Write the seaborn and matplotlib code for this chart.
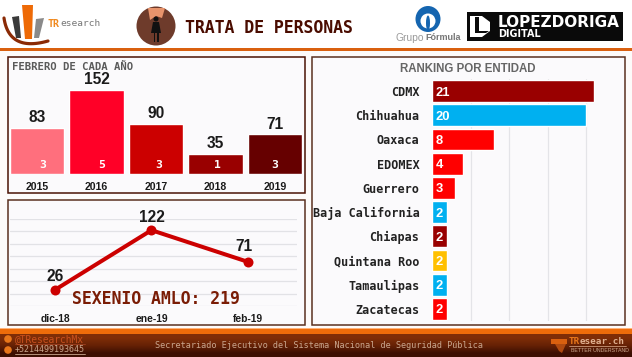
import numpy as np
import matplotlib.pyplot as plt
import seaborn as sns
from matplotlib.patches import Rectangle, Circle, Polygon, Ellipse

# Data
years = ['2015', '2016', '2017', '2018', '2019']
year_totals = [83, 152, 90, 35, 71]
year_counts = [3, 5, 3, 1, 3]
year_colors = ['#FF6F7D', '#FF0027', '#CC0000', '#990000', '#660000']

months = ['dic-18', 'ene-19', 'feb-19']
month_totals = [26, 122, 71]

states = ['CDMX', 'Chihuahua', 'Oaxaca', 'EDOMEX', 'Guerrero',
          'Baja California', 'Chiapas', 'Quintana Roo', 'Tamaulipas',
          'Zacatecas']
state_totals = [21, 20, 8, 4, 3, 2, 2, 2, 2, 2]
state_colors = ['#990000', '#00B0F0', '#FF0000', '#FF0000', '#FF0000',
                '#00B0F0', '#990000', '#FFC000', '#00B0F0', '#FF0000']

W, H = 632, 357
SANS = 'Liberation Sans'
MONO = 'DejaVu Sans Mono'

sns.set_theme(style='white')
fig = plt.figure(figsize=(W / 100, H / 100), dpi=100, facecolor='white')


def px_axes(left, top, right, bottom, zorder=1):
    """Axes placed by pixel edges of the figure."""
    ax = fig.add_axes([left / W, 1 - bottom / H, (right - left) / W,
                       (bottom - top) / H], zorder=zorder)
    ax.patch.set_alpha(0)
    return ax


# Background layer in pixel coordinates: panels, header, footer
bg = px_axes(0, 0, W, H, zorder=0)
bg.axis('off')

bg.add_patch(Rectangle((0, 47.5), W, 3.5, color='#D9600F', lw=0))
bg.add_patch(Rectangle((0, 51), W, 278, color='#FDFBFA', lw=0))
for x0, y0, x1, y1, edge in [(7.5, 56.5, 305, 193, '#4A1204'),
                             (7.5, 199.5, 305, 325, '#5A3020'),
                             (311.5, 56.5, 625, 325, '#5A3020')]:
    bg.add_patch(Rectangle((x0, y0), x1 - x0, y1 - y0, fc='#FBFAFC',
                           ec=edge, lw=1.1))

# Footer
bg.add_patch(Rectangle((0, 327.5), W, 1.5, color='#FFB27A', lw=0))
bg.add_patch(Rectangle((0, 329), W, 5, color='#EE6C0A', lw=0))
band = np.array([[0.50, 0.18, 0.03], [0.40, 0.13, 0.02],
                 [0.24, 0.06, 0.01]])[:, None, :]
bg.imshow(band, extent=(0, W, H, 334), aspect='auto', interpolation='bilinear')
bg.set_xlim(0, W)
bg.set_ylim(H, 0)
bg.text(319, 346, 'Secretariado Ejecutivo del Sistema Nacional de Seguridad '
        'Pública', family=MONO, fontsize=6.1, color='#C9A68E',
        ha='center', va='center')
bg.add_patch(Circle((8, 339), 3.8, color='#E8761A', lw=0))
bg.add_patch(Circle((8, 350), 3.8, color='#E8761A', lw=0))
bg.text(15, 339.5, '@TResearchMx', family=MONO, fontsize=6.9, color='#C8501E',
        va='center')
bg.text(15, 349.5, '+5214499193645', family=MONO, fontsize=6.0, color='#C9A68E',
        va='center')
bg.plot([15, 85], [344, 344], color='#A04020', lw=0.6)
bg.plot([15, 85], [354, 354], color='#C9A68E', lw=0.6)
bg.add_patch(Rectangle((551, 339), 16, 5, color='#D9600F', lw=0))
bg.add_patch(Polygon([(555, 344), (566, 344), (562, 353), (559, 351)],
                     color='#B04A10', lw=0))
bg.text(569, 341, 'TR', family=MONO, fontsize=6.7, color='#E8761A', weight='bold',
        va='center')
bg.text(580, 341, 'esear.ch', family=MONO, fontsize=6.7, color='#E0B090',
        weight='bold', va='center')
bg.plot([569, 626], [346, 346], color='#E0B090', lw=0.5)
bg.text(571, 350.5, 'BETTER UNDERSTAND', family=SANS, fontsize=3.8,
        color='#C9A68E', va='center')

# TResearch logo
bg.add_patch(Polygon([(12, 17), (19, 16), (21, 38), (16, 38)], color='#3A3A3A', lw=0))
bg.add_patch(Polygon([(22, 5), (33, 5), (32, 39), (25, 39)], color='#EE6A06', lw=0))
bg.add_patch(Polygon([(36, 19), (44, 18), (39, 38), (34, 38)], color='#8A8A8A', lw=0))
t = np.linspace(0, 1, 30)
bg.plot((1 - t)**2 * 4 + 2 * t * (1 - t) * 9 + t**2 * 48,
        (1 - t)**2 * 18 + 2 * t * (1 - t) * 52 + t**2 * 41,
        color='#8A2A05', lw=2.3, solid_capstyle='round')
bg.text(48, 24, 'TR', family=MONO, fontsize=7.2, weight='bold', color='#F08A20',
        va='center')
bg.text(60.5, 24, 'esearch', family=MONO, fontsize=6.8, color='#777777', va='center')

# Title icon
bg.add_patch(Circle((156, 26), 19.5, color='#6E3B2B', lw=0))
bg.add_patch(Polygon([(148, 8), (165, 8), (162, 18), (156, 16), (150, 20)],
                     color='#E8946C', lw=0))
bg.add_patch(Circle((156, 19), 2.5, color='#111111', lw=0))
bg.add_patch(Polygon([(153, 22), (159, 22), (161, 33), (151, 33)],
                     color='#111111', lw=0))
bg.add_patch(Rectangle((153.5, 33), 1.5, 9, color='#111111', lw=0))
bg.add_patch(Rectangle((157, 33), 1.5, 9, color='#111111', lw=0))
bg.text(185, 28, 'TRATA DE PERSONAS', family=MONO, fontsize=11.9, weight='bold',
        color='#4A0C00', va='center')

# Grupo Formula logo
bg.add_patch(Ellipse((428, 19), 25, 26, color='#1565B0', lw=0))
bg.add_patch(Ellipse((428, 21), 15, 15, color='white', lw=0))
bg.add_patch(Ellipse((428, 23), 4, 15, color='#1565B0', lw=0))
bg.text(396, 38, 'Grupo', family=SANS, fontsize=7.4, color='#9A9A9A', va='center')
bg.text(425, 38, 'Fórmula', family=SANS, fontsize=6.5, color='#777777', va='center',
        weight='bold')

# Lopezdoriga logo
bg.add_patch(Rectangle((467, 12), 156, 29, color='#0A0A0A', lw=0))
bg.add_patch(Polygon([(470, 16), (482, 16), (490, 22), (490, 31), (482, 37), (470, 37)],
                     color='white', lw=0))
bg.add_patch(Polygon([(475, 17), (479, 17), (479, 31), (489, 31), (486, 33), (475, 33)],
                     color='#0A0A0A', lw=0))
bg.text(498, 22.5, 'LOPEZDORIGA', family='DejaVu Sans', fontsize=11.0, weight='bold',
        color='white', va='center')
bg.text(498, 34, 'DIGITAL', family='DejaVu Sans', fontsize=6.9, weight='bold',
        color='white', va='center')

# Panel 1: February of each year
ax1 = px_axes(7.25, 70, 304.75, 173.5)
sns.barplot(x=years, y=year_totals, hue=years, palette=year_colors, width=0.91,
            legend=False, saturation=1, ax=ax1)
ax1.set_ylim(0, 103.5 / (83.5 / 152))
ax1.set_xlim(-0.5, 4.5)
sns.despine(ax=ax1, left=True, bottom=True)
ax1.set_yticks([])
ax1.tick_params(axis='x', length=0, pad=6)
for lab in ax1.get_xticklabels():
    lab.set(family=SANS, fontsize=7.6, weight='bold', color='#1A1A1A')
for i, total in enumerate(year_totals):
    ax1.annotate(str(total), (i, total), xytext=(0, 2), textcoords='offset points',
                 ha='center', va='bottom', family=SANS, fontsize=11.2,
                 weight='bold', color='#1A1A1A')
count_shift = [6, 5, 3, 1.5, 0]
for i, count in enumerate(year_counts):
    ax1.annotate(str(count), (i, 0), xytext=(count_shift[i] * 0.72, 6.2),
                 textcoords='offset points', ha='center', va='center',
                 family=MONO, fontsize=8.2, weight='bold', color='white')
bg.text(12.5, 67, 'FEBRERO DE CADA AÑO', family=MONO, fontsize=7.7, weight='bold',
        color='#5A5A5A', va='center')

# Panel 2: monthly line
ax2 = px_axes(10, 219, 297, 306)
sns.lineplot(x=months, y=month_totals, sort=False, color='#CC0000', lw=2.9,
             marker='o', markersize=7.2, markeredgewidth=0, errorbar=None, ax=ax2)
ax2.set_xlim(-0.466, 2.508)
ax2.set_ylim(0, 140)
ax2.set_yticks(range(0, 141, 20))
ax2.set_ylabel('')
ax2.tick_params(axis='y', left=False, labelleft=False)
ax2.tick_params(axis='x', length=0, pad=6)
ax2.grid(axis='y', color='#E2E2E6', lw=0.9)
sns.despine(ax=ax2, left=True, bottom=True)
for lab in ax2.get_xticklabels():
    lab.set(family=SANS, fontsize=7.4, weight='bold', color='#1A1A1A')
label_shift = [(0, 4), (0, 4), (-3, 6)]
for i, total in enumerate(month_totals):
    ax2.annotate(str(total), (i, total), xytext=label_shift[i],
                 textcoords='offset points', ha='center', va='bottom', family=SANS,
                 fontsize=11.2, weight='bold', color='#1A1A1A', zorder=5)
ax2.text(0.507, 0.085, 'SEXENIO AMLO: 219', transform=ax2.transAxes, family=MONO,
         fontsize=11.9, weight='bold', color='#7A1C05', ha='center', va='center')

# Panel 3: ranking by state
ax3 = px_axes(432, 78.9, 617, 321)
sns.barplot(x=state_totals, y=states, hue=states, palette=state_colors, width=0.9,
            legend=False, saturation=1, orient='h', ax=ax3)
ax3.set_xlim(0, 24)
ax3.set_xticks([5, 10, 15, 20])
ax3.set_xlabel('')
ax3.set_ylabel('')
ax3.set_axisbelow(True)
ax3.grid(axis='x', color='#E4E4E8', lw=0.9)
ax3.tick_params(axis='x', bottom=False, labelbottom=False)
ax3.tick_params(axis='y', length=0, pad=9)
sns.despine(ax=ax3, left=True, bottom=True)
for lab in ax3.get_yticklabels():
    lab.set(family=MONO, fontsize=8.5, weight='bold', color='#222222')
for i, total in enumerate(state_totals):
    ax3.annotate(str(total), (0, i), xytext=(2.6, 0), textcoords='offset points',
                 ha='left', va='center_baseline', family=SANS, fontsize=9.4,
                 weight='bold', color='white')
bg.text(468, 68.5, 'RANKING POR ENTIDAD', family=SANS, fontsize=8.3, weight='bold',
        color='#666666', ha='center', va='center')

fig.savefig('out.png', dpi=100)
